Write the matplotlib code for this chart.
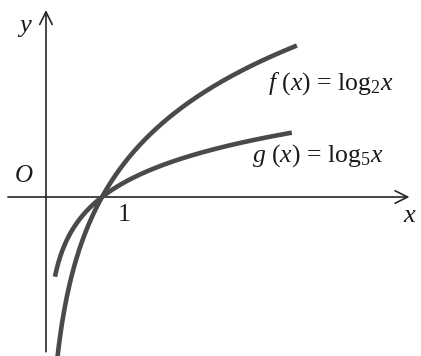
import numpy as np
import matplotlib
matplotlib.use("Agg")
import matplotlib.pyplot as plt
from matplotlib.patches import FancyArrowPatch

# Curve definitions: base of each logarithm and the x-range drawn
bases = [2, 5]
x_start = [0.2, 0.16]
x_end = [4.48, 4.39]
labels = [r"$f$ $(x)$ = log$_2x$", r"$g$ $(x)$ = log$_5x$"]
label_pos = [(3.96, 1.53), (3.68, 0.50)]

plt.rcParams["mathtext.fontset"] = "custom"
plt.rcParams["mathtext.rm"] = "Liberation Serif"
plt.rcParams["mathtext.it"] = "Liberation Serif:italic"
plt.rcParams["font.family"] = ["Liberation Serif", "DejaVu Serif"]

fig = plt.figure(figsize=(4.21, 3.56), dpi=100)
ax = fig.add_axes([0, 0, 1, 1])
ax.set_xlim(-0.821, 6.696)
ax.set_ylim(-2.271, 2.814)
ax.axis("off")

axis_color = "#262626"
curve_color = "#4a4a4a"
text_color = "#1a1a1a"

# coordinate axes with open arrow heads
for (p0, p1) in [((-0.68, 0), (6.49, 0)), ((0, -2.21), (0, 2.67))]:
    ax.add_patch(FancyArrowPatch(p0, p1, arrowstyle="->,head_length=0.9,head_width=0.45",
                                 mutation_scale=10, lw=1.2, color=axis_color,
                                 shrinkA=0, shrinkB=0))

# logarithm curves
for b, xs, xe in zip(bases, x_start, x_end):
    x = np.linspace(xs, xe, 400)
    ax.plot(x, np.log(x) / np.log(b), color=curve_color, lw=3.3,
            solid_capstyle="butt")

# labels
for lab, (lx, ly) in zip(labels, label_pos):
    ax.text(lx, ly, lab, fontsize=18.5, color=text_color, ha="left", va="baseline")

ax.text(-0.375, 2.42, r"$y$", fontsize=19, color=text_color, ha="center", va="center")
ax.text(-0.40, 0.30, r"$O$", fontsize=18, color=text_color, ha="center", va="center")
ax.text(1.39, -0.25, "1", fontsize=18.5, color=text_color, ha="center", va="center")
ax.text(6.5, -0.27, r"$x$", fontsize=19, color=text_color, ha="center", va="center")

fig.savefig("out.png", dpi=100, facecolor="white")
